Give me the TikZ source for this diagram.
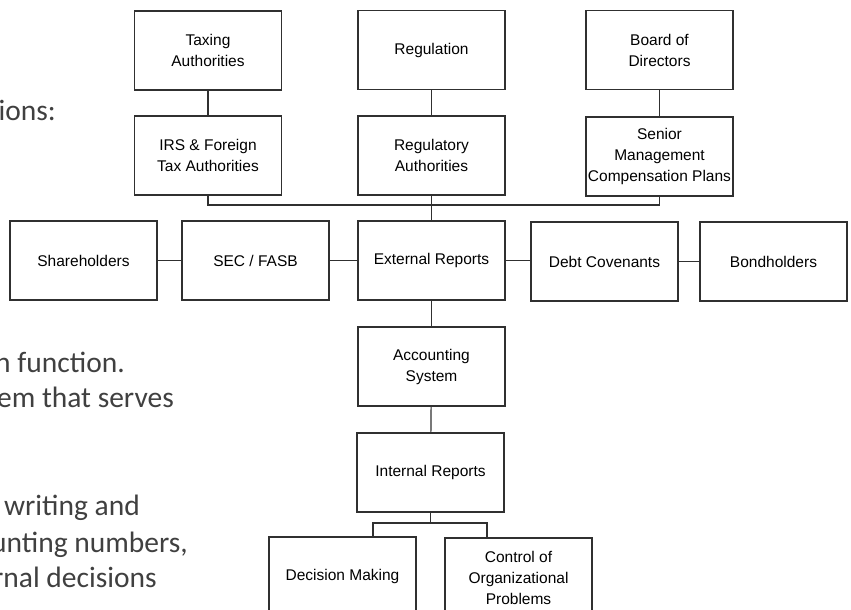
\documentclass[tikz,border=0pt]{standalone}
\usepackage{fontspec}
\setmainfont{Liberation Sans}
\newfontfamily\bodyfont{Carlito}
\definecolor{bodygray}{HTML}{404040}
\definecolor{linegray}{HTML}{303030}
\tikzset{
  box/.style={draw=linegray, line width=1.2pt, minimum width=147pt, minimum height=79pt,
    inner sep=2pt, align=center, font=\fontsize{15.5}{21}\selectfont, text=black},
  conn/.style={draw=linegray, line width=1.2pt},
  bodytext/.style={anchor=base east, inner sep=0pt, text=bodygray, font=\bodyfont\fontsize{29.5}{34}\selectfont}
}
\begin{document}
\begin{tikzpicture}[x=1pt,y=-1pt]
\clip (0,0) rectangle (851,610);
\fill[white] (0,0) rectangle (851,610);

% left slide text fragments
\node[bodytext] (t1) at (56,120) {ions:};
\node[bodytext] (t2) at (125,372) {h function.};
\node[bodytext] (t3) at (174,407) {em that serves};
\node[bodytext] (t4) at (140,515) {f writing and};
\node[bodytext] (t5) at (188,552) {unting numbers,};
\node[bodytext] (t6) at (157,587) {rnal decisions};

% boxes
\node[box] (tax) at (208,50.5) {Taxing\\Authorities};
\node[box] (reg) at (431.5,50) {Regulation};
\node[box] (bod) at (659.5,50) {Board of\\Directors};
\node[box] (irs) at (208,155.5) {IRS \& Foreign\\Tax Authorities};
\node[box] (rega) at (431.5,155.5) {Regulatory\\Authorities};
\node[box] (smc) at (659.5,156.5) {Senior\\Management\\Compensation Plans};
\node[box] (sh) at (83.5,260.5) {Shareholders};
\node[box] (sec) at (255.5,260.5) {SEC / FASB};
\node[box] (ext) at (431.5,260.5) {External Reports};
\node[box] (debt) at (604.5,261.5) {Debt Covenants};
\node[box] (bond) at (773.5,261.5) {Bondholders};
\node[box] (acct) at (431.5,366.5) {Accounting\\System};
\node[box] (ir) at (430.5,472.5) {Internal Reports};
\node[box] (dm) at (342.5,576.5) {Decision Making};
\node[box] (cm) at (518.5,577.5) {Control of\\Organizational\\Problems};

% connectors
\coordinate (bus) at (431.5,205);
\draw[conn] (tax) -- (irs);
\draw[conn] (reg) -- (rega);
\draw[conn] (bod) -- (smc);
\draw[conn] (irs.south) -- (irs.south |- bus) -- (smc.south |- bus) -- (smc.south);
\draw[conn] (rega) -- (ext);
\draw[conn] (sh) -- (sec);
\draw[conn] (sec) -- (ext);
\draw[conn] (ext.east) -- (debt.west |- ext.east);
\draw[conn] (debt) -- (bond);
\draw[conn] (ext) -- (acct);
\draw[conn] (acct) -- (ir);
\coordinate (bus2) at (430.5,523);
\coordinate (dl) at (373,523);
\coordinate (dr) at (487,523);
\draw[conn] (ir.south) -- (bus2);
\draw[conn] (dm.north -| dl) -- (dl) -- (dr) -- (cm.north -| dr);
\end{tikzpicture}
\end{document}
